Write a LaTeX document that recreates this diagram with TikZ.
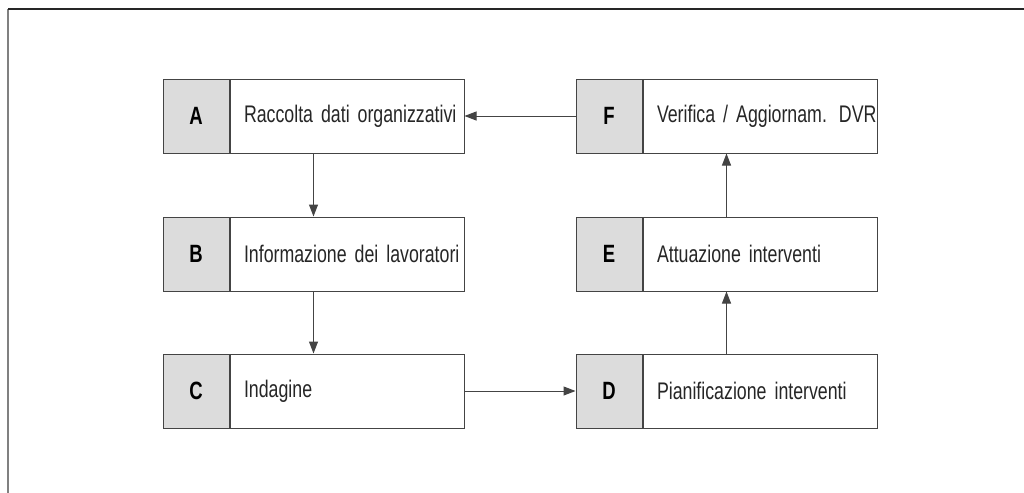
\documentclass[tikz,border=0pt]{standalone}
\usepackage{fontspec}
\setmainfont{Liberation Sans}[FakeStretch=0.74]
\usepackage{tikz}
\usetikzlibrary{calc,positioning,arrows.meta}
\definecolor{cellgray}{HTML}{DCDCDC}
\definecolor{edgegray}{HTML}{444444}
\tikzstyle{letter} = [draw=edgegray, fill=cellgray, line width=0.5pt, minimum width=33pt, minimum height=37pt, inner sep=0pt, font=\fontsize{12.5}{14}\selectfont\bfseries]
\tikzstyle{descr} = [draw=edgegray, line width=0.5pt, minimum height=37pt, text width=103pt, inner xsep=7pt, inner ysep=0pt, align=left, execute at begin node=\mbox\bgroup, execute at end node=\egroup, font=\fontsize{12}{14}\selectfont, text=black!85, right=0pt of #1]
\tikzstyle{arr} = [draw=edgegray, line width=0.5pt, -{Triangle[length=6pt,width=4.5pt]}]

\begin{document}
\begin{tikzpicture}[x=0.5pt, y=-0.5pt]
    \useasboundingbox (0,0) rectangle (1024,493);
    % frame
    \draw[gray, line width=1pt] (8,9) -- (8,493);
    \draw[black!85, line width=0.8pt] (8,9) -- (1024,9);
    % left column
    \node[letter] (la) at (196,116) {A};
    \node[descr=la] (ta) {Raccolta dati organizzativi};
    \node[letter] (lb) at (196,254) {B};
    \node[descr=lb] (tb) {Informazione dei lavoratori};
    \node[letter] (lc) at (196,391) {C};
    \node[descr=lc] (tc) {Indagine};
    % right column
    \node[letter] (lf) at (609,116) {F};
    \node[descr=lf] (tf) {Verifica / Aggiornam. DVR};
    \node[letter] (le) at (609,254) {E};
    \node[descr=le] (te) {Attuazione interventi};
    \node[letter] (ld) at (609,391) {D};
    \node[descr=ld] (td) {Pianificazione interventi};
    % connectors
    \draw[arr] ($(la.south west)!0.5!(ta.south east)$) -- ($(lb.north west)!0.5!(tb.north east)$);
    \draw[arr] ($(lb.south west)!0.5!(tb.south east)$) -- ($(lc.north west)!0.5!(tc.north east)$);
    \draw[arr] (tc.east) -- (ld.west);
    \draw[arr] ($(ld.north west)!0.5!(td.north east)$) -- ($(le.south west)!0.5!(te.south east)$);
    \draw[arr] ($(le.north west)!0.5!(te.north east)$) -- ($(lf.south west)!0.5!(tf.south east)$);
    \draw[arr] (lf.west) -- (ta.east);
\end{tikzpicture}
\end{document}
